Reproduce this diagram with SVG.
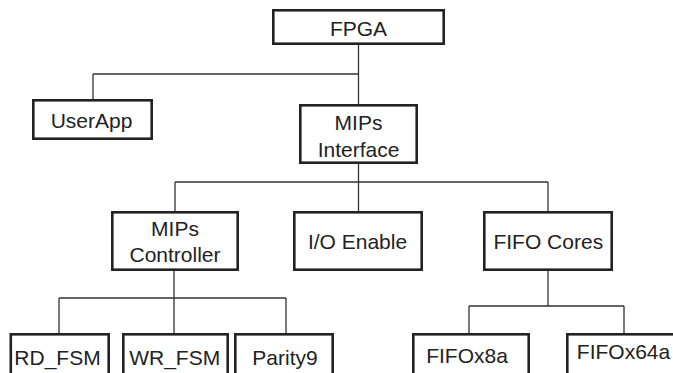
<svg xmlns="http://www.w3.org/2000/svg" width="673" height="373" viewBox="0 0 673 373">
<style>
.box{fill:#fff;stroke:#222;stroke-width:2.6}
.lbl{font-family:"Liberation Sans",Arial,sans-serif;font-size:21px;fill:#222;text-anchor:middle}
.con{fill:none;stroke:#333;stroke-width:1.3}
</style>
<rect width="673" height="373" fill="#fff"/>
<g id="connectors" class="con">
<path d="M358.5,45V104M93,74H358.5M93,74V99"/>
<path d="M358.5,164V211M175,182H548M175,182V211M548,182V211"/>
<path d="M174,271V334M59,298H286M59,298V334M286,298V334"/>
<path d="M548,271V306M469,306H624M469,306V334M624,306V334"/>
</g>
<g id="fpga"><rect class="box" x="273.3" y="10.3" width="170.4" height="33.4"/><text class="lbl" x="358.5" y="36">FPGA</text></g>
<g id="userapp"><rect class="box" x="33.3" y="100.3" width="118.4" height="38.4"/><text class="lbl" x="91.5" y="128">UserApp</text></g>
<g id="mips-interface"><rect class="box" x="300.3" y="105.3" width="116.4" height="57.4"/><text class="lbl" x="358.5" y="129.5">MIPs</text><text class="lbl" x="358.5" y="157">Interface</text></g>
<g id="mips-controller"><rect class="box" x="112.3" y="212.3" width="125.4" height="57.4"/><text class="lbl" x="175" y="236">MIPs</text><text class="lbl" x="175" y="261.7">Controller</text></g>
<g id="io-enable"><rect class="box" x="294.3" y="212.3" width="127.4" height="57.4"/><text class="lbl" x="357.5" y="248.5">I/O Enable</text></g>
<g id="fifo-cores"><rect class="box" x="484.3" y="212.3" width="127.4" height="57.4"/><text class="lbl" x="548.3" y="249">FIFO Cores</text></g>
<g id="rd-fsm"><rect class="box" x="10.8" y="334.3" width="97.9" height="60"/><text class="lbl" x="57.5" y="365">RD_FSM</text></g>
<g id="wr-fsm"><rect class="box" x="123.3" y="334.3" width="104.4" height="60"/><text class="lbl" x="174.7" y="365">WR_FSM</text></g>
<g id="parity9"><rect class="box" x="235.3" y="334.3" width="97.4" height="60"/><text class="lbl" x="285" y="365">Parity9</text></g>
<g id="fifox8a"><rect class="box" x="413.3" y="334.3" width="115.4" height="60"/><text class="lbl" x="467" y="363.3">FIFOx8a</text></g>
<g id="fifox64a"><rect class="box" x="567.3" y="334.3" width="113.4" height="60"/><text class="lbl" x="623.5" y="359.3">FIFOx64a</text></g>
</svg>
